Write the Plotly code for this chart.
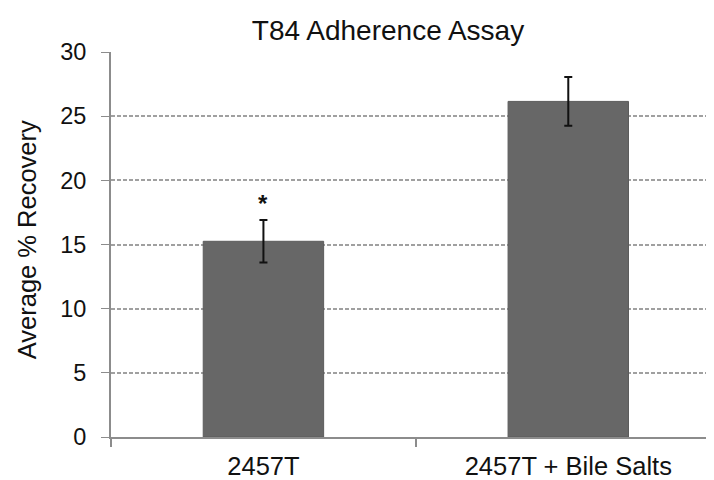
import plotly.graph_objects as go

# Data
categories = ["2457T", "2457T + Bile Salts"]
mean_recovery = [15.25, 26.15]
std_error = [1.65, 1.9]
significance = ["*", ""]
y_ticks = [0, 5, 10, 15, 20, 25, 30]

# page body has an 8px margin, so the figure is drawn 8px smaller
OFF = 8
W, H = 714 - OFF, 480 - OFF
FONT = "Liberation Sans, Arial, sans-serif"

fig = go.Figure()
fig.add_trace(go.Bar(
    x=categories,
    y=mean_recovery,
    marker=dict(color="#676767", line=dict(color="#5c5c5c", width=1)),
    width=0.395,
    error_y=dict(type="data", array=std_error, visible=True,
                 color="#111111", thickness=2, width=4),
    showlegend=False,
))

# significance marks above error bars
for cat, m, e, s in zip(categories, mean_recovery, std_error, significance):
    if s:
        fig.add_annotation(x=cat, y=m + e, text="<b>" + s + "</b>", showarrow=False,
                           xref="x", yref="y", yshift=17,
                           font=dict(family=FONT, size=24, color="#111111"))

fig.add_annotation(
    text="Average % Recovery", textangle=-90, showarrow=False,
    xref="paper", yref="paper", x=(27 - 111) / 603, y=0.511,
    xanchor="center", yanchor="middle",
    font=dict(family=FONT, size=25.5, color="#111111"),
)

fig.update_layout(
    width=W, height=H,
    margin=dict(l=111 - OFF, r=0, t=52 - OFF, b=43),
    paper_bgcolor="white", plot_bgcolor="white",
    title=dict(text="T84 Adherence Assay", xref="container", yref="container",
               x=(388 - OFF) / W, y=1 - (30 - OFF) / H,
               xanchor="center", yanchor="middle",
               font=dict(family=FONT, size=28, color="#111111")),
    xaxis=dict(
        range=[-0.5, 1.478], type="category",
        showline=True, linecolor="#8c8c8c", linewidth=2,
        ticks="outside", tickson="boundaries", ticklen=8, tickcolor="#8c8c8c",
        tickwidth=2, showgrid=False, automargin=False,
        tickfont=dict(family=FONT, size=25.5, color="#111111"),
        ticklabelstandoff=5,
    ),
    yaxis=dict(
        range=[0, 30], tickvals=y_ticks,
        showline=True, linecolor="#8c8c8c", linewidth=2,
        ticks="outside", ticklen=8, tickcolor="#8c8c8c", tickwidth=1,
        showgrid=True, gridcolor="#a0a0a0", griddash="4px,2px", gridwidth=1.5,
        zeroline=False, automargin=False,
        tickfont=dict(family=FONT, size=23.5, color="#111111"),
        ticklabelstandoff=10,
    ),
    bargap=0.6,
)

fig.write_html("out.html")
